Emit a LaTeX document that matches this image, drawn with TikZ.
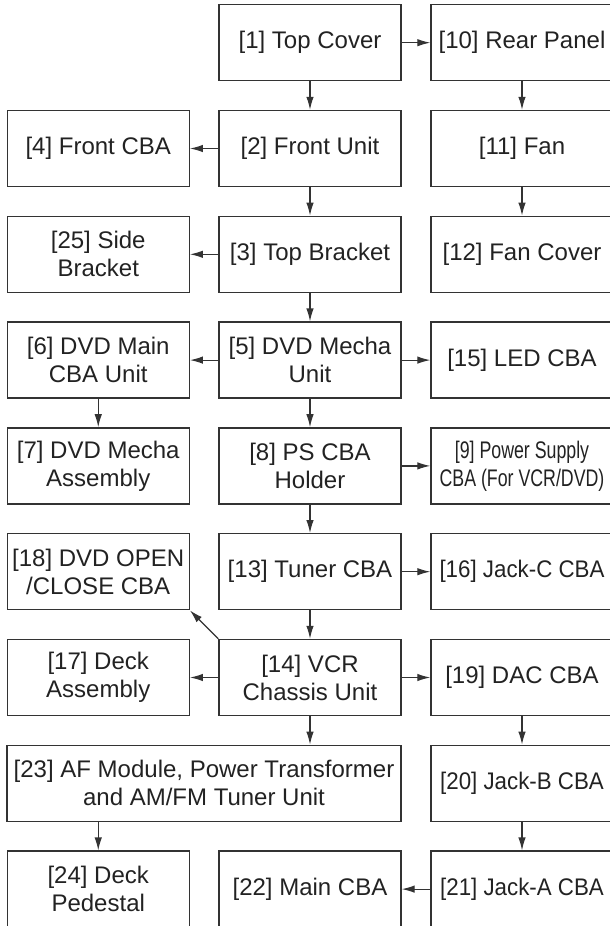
\documentclass[tikz,border=0pt]{standalone}
\usepackage{fontspec}
\setmainfont{Liberation Sans}
\newfontfamily\narrowfont[FakeStretch=0.74]{Liberation Sans}
\newfontfamily\slimfont[FakeStretch=0.93]{Liberation Sans}
\usetikzlibrary{arrows.meta}
\definecolor{ink}{HTML}{222222}
\definecolor{edge}{HTML}{333333}
\begin{document}
\begin{tikzpicture}[x=1pt,y=-1pt,
  box/.style={draw=edge, line width=1.4pt, minimum width=182pt, minimum height=76pt,
    inner sep=0pt, align=center, text=ink, font=\fontsize{24}{28}\selectfont},
  widebox/.style={box, minimum width=394pt},
  narrowtext/.style={font=\narrowfont\fontsize{24}{28}\selectfont},
  slimtext/.style={font=\slimfont\fontsize{24}{28}\selectfont},
  link/.style={draw=edge, line width=1.2pt, -{Latex[length=13pt,width=7.5pt]}}]
\useasboundingbox (0,0) rectangle (610,926);
\clip (0,0) rectangle (610,926);
% columns: L=98.25, M=310, R=522 ; rows: 42.7 + 105.8*(i-1)
\node[box] (n1)  at (310,42.7)  {[1] Top Cover};
\node[box] (n10) at (522,42.7)  {[10] Rear Panel};
\node[box] (n4)  at (98.25,148.5) {[4] Front CBA};
\node[box] (n2)  at (310,148.5) {[2] Front Unit};
\node[box] (n11) at (522,148.5) {[11] Fan};
\node[box] (n25) at (98.25,254.3) {[25] Side\\Bracket};
\node[box] (n3)  at (310,254.3) {[3] Top Bracket};
\node[box] (n12) at (522,254.3) {[12] Fan Cover};
\node[box] (n6)  at (98.25,360.1) {[6] DVD Main\\CBA Unit};
\node[box] (n5)  at (310,360.1) {[5] DVD Mecha\\Unit};
\node[box] (n15) at (522,360.1) {[15] LED CBA};
\node[box] (n7)  at (98.25,465.9) {[7] DVD Mecha\\Assembly};
\node[box] (n8)  at (310,465.9) {[8] PS CBA\\Holder};
\node[box,narrowtext] (n9) at (522,465.9) {[9] Power Supply\\CBA (For VCR/DVD)};
\node[box] (n18) at (98.25,571.7) {[18] DVD OPEN\\/CLOSE CBA};
\node[box] (n13) at (310,571.7) {[13] Tuner CBA};
\node[box,slimtext] (n16) at (522,571.7) {[16] Jack-C CBA};
\node[box] (n17) at (98.25,677.5) {[17] Deck\\Assembly};
\node[box] (n14) at (310,677.5) {[14] VCR\\Chassis Unit};
\node[box] (n19) at (522,677.5) {[19] DAC CBA};
\node[widebox] (n23) at (204,783.3) {[23] AF Module, Power Transformer\\and AM/FM Tuner Unit};
\node[box,slimtext] (n20) at (522,783.3) {[20] Jack-B CBA};
\node[box] (n24) at (98.25,889.1) {[24] Deck\\Pedestal};
\node[box] (n22) at (310,889.1) {[22] Main CBA};
\node[box,slimtext] (n21) at (522,889.1) {[21] Jack-A CBA};
% connectors
\draw[link] (n1.east) -- (n10.west);
\draw[link] (n1.south) -- (n2.north);
\draw[link] (n10.south) -- (n11.north);
\draw[link] (n2.west) -- (n4.east);
\draw[link] (n2.south) -- (n3.north);
\draw[link] (n11.south) -- (n12.north);
\draw[link] (n3.west) -- (n25.east);
\draw[link] (n3.south) -- (n5.north);
\draw[link] (n5.west) -- (n6.east);
\draw[link] (n5.east) -- (n15.west);
\draw[link] (n6.south) -- (n7.north);
\draw[link] (n5.south) -- (n8.north);
\draw[link] (n8.east) -- (n9.west);
\draw[link] (n8.south) -- (n13.north);
\draw[link] (n13.east) -- (n16.west);
\draw[link] (n13.south) -- (n14.north);
\draw[link] (n14.north west) -- (n18.south east);
\draw[link] (n14.west) -- (n17.east);
\draw[link] (n14.east) -- (n19.west);
\draw[link] (n14.south) -- (n14.south |- n23.north);
\draw[link] (n19.south) -- (n20.north);
\draw[link] (n24.north |- n23.south) -- (n24.north);
\draw[link] (n20.south) -- (n21.north);
\draw[link] (n21.west) -- (n22.east);
\end{tikzpicture}
\end{document}
